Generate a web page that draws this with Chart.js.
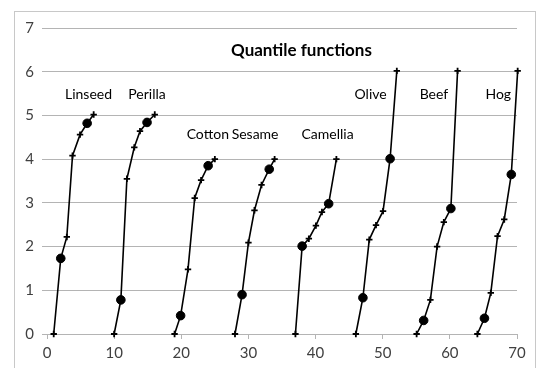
<!DOCTYPE html>
<html>
<head>
<meta charset="utf-8">
<script src="https://cdn.jsdelivr.net/npm/chart.js@4/dist/chart.umd.min.js"></script>
<style>
  html, body { margin: 0; padding: 0; background: #fff; }
  #wrap { width: 538px; height: 368px; position: relative; }
</style>
</head>
<body>
<div id="wrap"><canvas id="c" width="538" height="368"></canvas></div>
<script>
// Quantile functions of eight fats and oils, each shifted along x.
const oilNames = ['Linseed', 'Perilla', 'Cotton', 'Sesame', 'Camellia', 'Olive', 'Beef', 'Hog'];

const linseedX  = [1.0, 2.05, 2.95, 3.8, 4.92, 5.98, 6.95];
const linseedY  = [0, 1.73, 2.22, 4.08, 4.56, 4.82, 5.02];
const perillaX  = [10.0, 11.0, 11.9, 13.0, 13.85, 14.9, 16.05];
const perillaY  = [0, 0.78, 3.55, 4.27, 4.64, 4.84, 5.02];
const cottonX   = [19.0, 19.9, 21.0, 22.0, 22.95, 24.0, 25.0];
const cottonY   = [0, 0.42, 1.48, 3.11, 3.52, 3.85, 4.0];
const sesameX   = [28.0, 29.05, 30.0, 30.9, 31.95, 33.1, 33.9];
const sesameY   = [0, 0.9, 2.09, 2.83, 3.41, 3.77, 4.0];
const camelliaX = [37.0, 38.0, 39.0, 40.05, 40.95, 41.95, 43.1];
const camelliaY = [0, 2.01, 2.18, 2.48, 2.79, 2.98, 4.0];
const oliveX    = [46.0, 47.05, 48.0, 49.0, 50.05, 51.1, 52.1];
const oliveY    = [0, 0.83, 2.16, 2.49, 2.81, 4.01, 6.02];
const beefX     = [55.05, 56.1, 57.1, 58.1, 59.1, 60.15, 61.15];
const beefY     = [0, 0.31, 0.78, 2.0, 2.56, 2.87, 6.02];
const hogX      = [64.1, 65.15, 66.1, 67.1, 68.1, 69.15, 70.1];
const hogY      = [0, 0.36, 0.94, 2.24, 2.62, 3.65, 6.02];

// Which points of every curve get the large dot marker.
const markerKind = ['tick', 'dot', 'tick', 'tick', 'tick', 'dot', 'tick'];

const xTicks = [0, 10, 20, 30, 40, 50, 60, 70];
const yTicks = [0, 1, 2, 3, 4, 5, 6, 7];

const chartTitle = 'Quantile functions';

// Name labels, anchored (left edge, middle) in data units.
const labelX = [2.68, 12.1, 20.8, 27.5, 37.9, 45.8, 55.5, 65.3];
const labelY = [5.49, 5.49, 4.57, 4.57, 4.57, 5.49, 5.49, 5.49];

const seriesX = [linseedX, perillaX, cottonX, sesameX, camelliaX, oliveX, beefX, hogX];
const seriesY = [linseedY, perillaY, cottonY, sesameY, camelliaY, oliveY, beefY, hogY];

const FONT = 'Lato, "Open Sans", sans-serif';

const datasets = oilNames.map((name, i) => ({
  label: name,
  data: seriesX[i].map((x, j) => ({ x: x, y: seriesY[i][j] })),
  showLine: true,
  borderColor: '#000',
  backgroundColor: '#000',
  borderWidth: 1.6,
  pointStyle: markerKind.map(k => k === 'dot' ? 'circle' : 'cross'),
  pointRadius: markerKind.map(k => k === 'dot' ? 4.3 : 3.2),
  pointBorderWidth: markerKind.map(k => k === 'dot' ? 1 : 1.8),
  pointBorderColor: '#000',
  pointBackgroundColor: '#000',
  clip: false
}));

const frameAndText = {
  id: 'frameAndText',
  beforeDraw(chart) {
    const ctx = chart.ctx;
    ctx.save();
    ctx.fillStyle = '#fff';
    ctx.fillRect(0, 0, chart.width, chart.height);
    ctx.strokeStyle = '#c8c8c8';
    ctx.lineWidth = 1;
    ctx.strokeRect(14.5, 11.5, 521, 400);
    ctx.restore();
  },
  afterDatasetsDraw(chart) {
    const ctx = chart.ctx;
    const xs = chart.scales.x, ys = chart.scales.y;
    ctx.save();
    ctx.fillStyle = '#000';
    ctx.textBaseline = 'middle';
    ctx.font = 'bold 17px ' + FONT;
    ctx.textAlign = 'center';
    ctx.fillText(chartTitle, xs.getPixelForValue(37.9), ys.getPixelForValue(6.49));
    ctx.font = '14px ' + FONT;
    ctx.textAlign = 'left';
    oilNames.forEach((name, i) => {
      ctx.fillText(name, xs.getPixelForValue(labelX[i]), ys.getPixelForValue(labelY[i]));
    });
    ctx.restore();
  }
};

new Chart(document.getElementById('c'), {
  type: 'scatter',
  data: { datasets: datasets },
  options: {
    responsive: false,
    animation: false,
    devicePixelRatio: 1,
    layout: { padding: { left: 14, right: 21, top: 28, bottom: 0 } },
    plugins: {
      legend: { display: false },
      tooltip: { enabled: false },
      title: { display: false }
    },
    scales: {
      x: {
        type: 'linear',
        min: 0, max: 70,
        afterBuildTicks(scale) { scale.ticks = xTicks.map(v => ({ value: v })); },
        afterFit(scale) { scale.height = 34; },
        grid: { drawOnChartArea: false, drawTicks: true, tickLength: 5, color: '#b4b4b4' },
        border: { display: true, color: '#b4b4b4' },
        ticks: { color: '#404040', font: { family: FONT, size: 15 }, padding: 5, maxRotation: 0 }
      },
      y: {
        type: 'linear',
        min: 0, max: 7,
        afterBuildTicks(scale) { scale.ticks = yTicks.map(v => ({ value: v })); },
        afterFit(scale) { scale.width = 33; },
        grid: { drawOnChartArea: true, drawTicks: true, tickLength: 5, color: '#b4b4b4' },
        border: { display: false },
        ticks: { color: '#404040', font: { family: FONT, size: 15 }, padding: 8 }
      }
    }
  },
  plugins: [frameAndText]
});
</script>
</body>
</html>
